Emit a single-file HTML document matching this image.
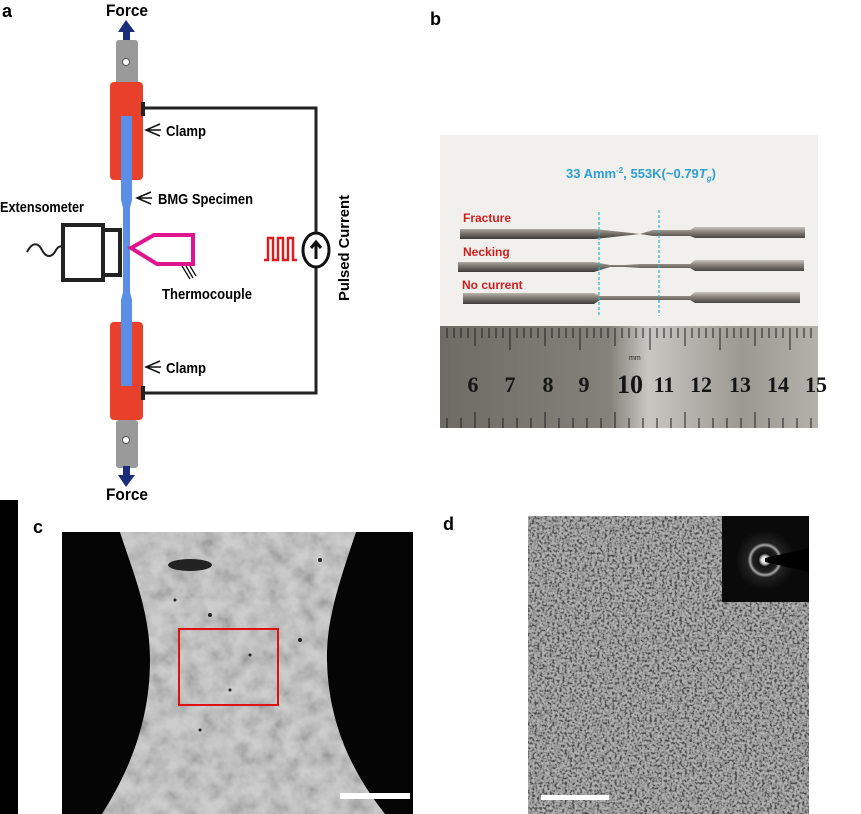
<!DOCTYPE html>
<html><head><meta charset="utf-8"><style>
html,body{margin:0;padding:0;background:#fff;width:861px;height:814px;overflow:hidden}
svg{display:block}
text{font-family:"Liberation Sans",sans-serif}
text.ser{font-family:"Liberation Serif",serif}
</style></head><body>
<svg width="861" height="814" viewBox="0 0 861 814" xmlns="http://www.w3.org/2000/svg">
<defs>
<filter id="noise" x="0" y="0" width="100%" height="100%">
<feTurbulence type="fractalNoise" baseFrequency="0.4" numOctaves="2" seed="3"/>
<feColorMatrix type="matrix" values="3 0 0 0 -1  3 0 0 0 -1  3 0 0 0 -1  0 0 0 0 1"/>
</filter>
<filter id="noise2" x="0" y="0" width="100%" height="100%">
<feTurbulence type="fractalNoise" baseFrequency="0.06" numOctaves="3" seed="7"/>
<feColorMatrix type="matrix" values="1.5 0 0 0 -0.1  1.5 0 0 0 -0.1  1.5 0 0 0 -0.1  0 0 0 0 1"/>
</filter>
<clipPath id="hg"><path d="M120,532 H356 C340,580 326,620 327,660 C328,720 350,770 385,814 H102 C130,770 150,720 150,660 C150,610 132,570 120,532 Z"/></clipPath>
<clipPath id="dclip"><rect x="528" y="516" width="281" height="298"/></clipPath>
<linearGradient id="rod" x1="0" y1="0" x2="0" y2="1">
<stop offset="0" stop-color="#c8c4be"/><stop offset="0.4" stop-color="#8a847e"/><stop offset="1" stop-color="#3e3a36"/>
</linearGradient>
<linearGradient id="ruler" x1="0" y1="0" x2="1" y2="0">
<stop offset="0" stop-color="#6e6a64"/><stop offset="0.45" stop-color="#85817b"/><stop offset="0.55" stop-color="#c9c7c2"/><stop offset="0.8" stop-color="#9c9892"/><stop offset="1" stop-color="#b4b0aa"/>
</linearGradient>
<radialGradient id="ring" cx="0.5" cy="0.5" r="0.5">
<stop offset="0" stop-color="#fff"/><stop offset="0.12" stop-color="#ddd"/><stop offset="0.22" stop-color="#111"/><stop offset="0.42" stop-color="#222"/><stop offset="0.5" stop-color="#aaa"/><stop offset="0.58" stop-color="#222"/><stop offset="1" stop-color="#0a0a0a"/>
</radialGradient>
</defs>

<!-- Panel a -->
<text x="2" y="17" font-size="18" font-weight="bold">a</text>
<text x="127" y="16" font-size="17" font-weight="bold" text-anchor="middle" textLength="42" lengthAdjust="spacingAndGlyphs">Force</text>
<polygon points="126,20 118,32 123,32 123,42 130,42 130,32 135,32" fill="#1a2d7a"/>
<rect x="116" y="40" width="22" height="46" rx="3" fill="#9a9a9a"/>
<circle cx="126" cy="62" r="3.5" fill="#fff" stroke="#555"/>
<rect x="110" y="82" width="33" height="98" rx="4" fill="#e8402a"/>
<rect x="110" y="322" width="33" height="98" rx="4" fill="#e8402a"/>
<rect x="116" y="420" width="22" height="48" rx="3" fill="#9a9a9a"/>
<circle cx="126" cy="440" r="3.5" fill="#fff" stroke="#555"/>
<polygon points="126,487 118,475 123,475 123,466 130,466 130,475 135,475" fill="#1a2d7a"/>
<text x="127" y="500" font-size="17" font-weight="bold" text-anchor="middle" textLength="42" lengthAdjust="spacingAndGlyphs">Force</text>
<path d="M121,116 H132 V200 L130,208 V292 L132,300 V386 H121 V300 L123,292 V208 L121,200 Z" fill="#5b8ee6"/>
<path d="M143,108 H316 V393 H143" fill="none" stroke="#222" stroke-width="3"/>
<rect x="141" y="102" width="4" height="14" fill="#222"/>
<rect x="141" y="386" width="4" height="14" fill="#222"/>
<ellipse cx="316" cy="250" rx="13" ry="17" fill="#fff" stroke="#111" stroke-width="3"/>
<path d="M316,259 V243 M311,248 L316,242 L321,248" stroke="#111" stroke-width="3" fill="none"/>
<path d="M264,260 H268 V238 H273 V260 H278 V238 H283 V260 H288 V238 H293 V260 H297" fill="none" stroke="#d81e1e" stroke-width="2.5"/>
<text transform="translate(349,248) rotate(-90)" font-size="15" font-weight="bold" text-anchor="middle" textLength="106" lengthAdjust="spacingAndGlyphs">Pulsed Current</text>
<path d="M160,124 L146,130 L160,136 M146,130 H161" fill="none" stroke="#111" stroke-width="1.5"/>
<text x="166" y="136" font-size="15" font-weight="bold" textLength="40" lengthAdjust="spacingAndGlyphs">Clamp</text>
<path d="M160,361 L146,367 L160,373 M146,367 H161" fill="none" stroke="#111" stroke-width="1.5"/>
<text x="166" y="373" font-size="15" font-weight="bold" textLength="40" lengthAdjust="spacingAndGlyphs">Clamp</text>
<path d="M151,192 L137,198 L151,204 M137,198 H152" fill="none" stroke="#111" stroke-width="1.5"/>
<text x="158" y="204" font-size="15" font-weight="bold" textLength="95" lengthAdjust="spacingAndGlyphs">BMG Specimen</text>
<text x="0" y="212" font-size="15" font-weight="bold" textLength="84" lengthAdjust="spacingAndGlyphs">Extensometer</text>
<rect x="63" y="225" width="40" height="55" fill="#fff" stroke="#222" stroke-width="4"/>
<rect x="103" y="230" width="17" height="45" fill="#fff" stroke="#222" stroke-width="4"/>
<path d="M27,252 C32,242 38,242 42,250 C46,258 52,258 56,250 Q60,244 63,248" fill="none" stroke="#222" stroke-width="2"/>
<polygon points="131,248 154,235 193,235 193,264 157,264" fill="none" stroke="#e0148c" stroke-width="4"/>
<path d="M182,266 L190,279 M186,266 L193,278 M190,266 L196,276" stroke="#111" stroke-width="1.3"/>
<text x="162" y="299" font-size="15" font-weight="bold" textLength="90" lengthAdjust="spacingAndGlyphs">Thermocouple</text>

<!-- Panel b -->
<text x="430" y="25" font-size="18" font-weight="bold">b</text>
<rect x="440" y="135" width="378" height="192" fill="#f1f0ec"/>
<text x="641" y="178" font-size="13" font-weight="bold" fill="#2f9fd2" text-anchor="middle">33 Amm<tspan font-size="8" dy="-5">-2</tspan><tspan dy="5">, 553K(~0.79</tspan><tspan font-style="italic">T</tspan><tspan font-size="8" dy="3" font-style="italic">g</tspan><tspan dy="-3">)</tspan></text>
<text x="463" y="222" font-size="12" font-weight="bold" fill="#d01e1e">Fracture</text>
<text x="463" y="256" font-size="12" font-weight="bold" fill="#d01e1e">Necking</text>
<text x="462" y="289" font-size="12" font-weight="bold" fill="#d01e1e">No current</text>
<path d="M460,229 H595 L640,234 L653,230 H690 L695,227 H805 V238 H695 L690,236 H653 L640,234 L595,239 H460 Z" fill="url(#rod)"/>
<path d="M458,262 H594 L610,265 H625 L640,264 H690 L695,260 H804 V271 H695 L690,268 H640 L625,267 H610 L594,272 H458 Z" fill="url(#rod)"/>
<path d="M463,293 H594 L600,296 H690 L695,292 H800 V303 H695 L690,300 H600 L594,304 H463 Z" fill="url(#rod)"/>
<line x1="599" y1="212" x2="599" y2="316" stroke="#2bb5cf" stroke-width="1.2" stroke-dasharray="3,2"/>
<line x1="659" y1="210" x2="659" y2="316" stroke="#2bb5cf" stroke-width="1.2" stroke-dasharray="3,2"/>
<rect x="440" y="326" width="378" height="102" fill="url(#ruler)"/>
<g stroke="#222" stroke-width="1">
<path d="M447,328 v10 M454,328 v10 M461,328 v10 M468,328 v10 M475,328 v18 M482,328 v10 M489,328 v10 M496,328 v10 M503,328 v10 M510,328 v22 M517,328 v10 M524,328 v10 M531,328 v10 M538,328 v10 M545,328 v18 M552,328 v10 M559,328 v10 M566,328 v10 M573,328 v10 M580,328 v22 M587,328 v10 M594,328 v10 M601,328 v10 M608,328 v10 M615,328 v18 M622,328 v10 M629,328 v10 M636,328 v10 M643,328 v10 M650,328 v22 M657,328 v10 M664,328 v10 M671,328 v10 M678,328 v10 M685,328 v18 M692,328 v10 M699,328 v10 M706,328 v10 M713,328 v10 M720,328 v22 M727,328 v10 M734,328 v10 M741,328 v10 M748,328 v10 M755,328 v18 M762,328 v10 M769,328 v10 M776,328 v10 M783,328 v10 M790,328 v22 M797,328 v10 M804,328 v10 M811,328 v10"/>
<path d="M447,418 v10 M461,418 v10 M475,412 v16 M489,418 v10 M503,418 v10 M517,418 v10 M531,418 v10 M545,412 v16 M559,418 v10 M573,418 v10 M587,418 v10 M601,418 v10 M615,412 v16 M629,418 v10 M643,418 v10 M657,418 v10 M671,418 v10 M685,412 v16 M699,418 v10 M713,418 v10 M727,418 v10 M741,418 v10 M755,412 v16 M769,418 v10 M783,418 v10 M797,418 v10 M811,418 v10"/>
</g>
<g font-size="22" font-weight="bold" fill="#151515" text-anchor="middle">
<text class="ser" x="473" y="392">6</text><text class="ser" x="510" y="392">7</text><text class="ser" x="548" y="392">8</text><text class="ser" x="584" y="392">9</text>
<text class="ser" x="630" y="393" font-size="26">10</text><text class="ser" x="664" y="392">11</text><text class="ser" x="701" y="392">12</text><text class="ser" x="740" y="392">13</text><text class="ser" x="778" y="392">14</text><text class="ser" x="816" y="392">15</text>
</g>
<text x="629" y="360" font-size="7" fill="#222">mm</text>

<!-- Panel c -->
<rect x="0" y="500" width="18" height="314" fill="#000"/>
<text x="33" y="533" font-size="18" font-weight="bold">c</text>
<rect x="62" y="532" width="351" height="282" fill="#050505"/>
<g clip-path="url(#hg)">
<rect x="100" y="532" width="290" height="282" fill="#b8b8b8"/>
<rect x="100" y="532" width="290" height="282" filter="url(#noise2)" opacity="0.3"/>
</g>
<ellipse cx="190" cy="565" rx="22" ry="6" fill="#222"/>
<g fill="#222"><circle cx="210" cy="615" r="2"/><circle cx="300" cy="640" r="2"/><circle cx="230" cy="690" r="1.5"/><circle cx="175" cy="600" r="1.5"/><circle cx="250" cy="655" r="1.5"/><circle cx="320" cy="560" r="2"/><circle cx="200" cy="730" r="1.5"/></g>
<rect x="179" y="629" width="99" height="76" fill="none" stroke="#e01010" stroke-width="2"/>
<rect x="340" y="793" width="70" height="6" fill="#fff"/>

<!-- Panel d -->
<text x="443" y="530" font-size="18" font-weight="bold">d</text>
<g clip-path="url(#dclip)">
<rect x="528" y="516" width="281" height="298" fill="#808080"/>
<rect x="528" y="516" width="281" height="298" filter="url(#noise)" opacity="0.4"/>
</g>
<rect x="722" y="516" width="87" height="86" fill="#0a0a0a"/>
<circle cx="765" cy="560" r="30" fill="url(#ring)"/>
<polygon points="765,558 809,548 809,572 765,562" fill="#000"/>
<rect x="541" y="795" width="68" height="5" fill="#fff"/>
</svg>
</body></html>
